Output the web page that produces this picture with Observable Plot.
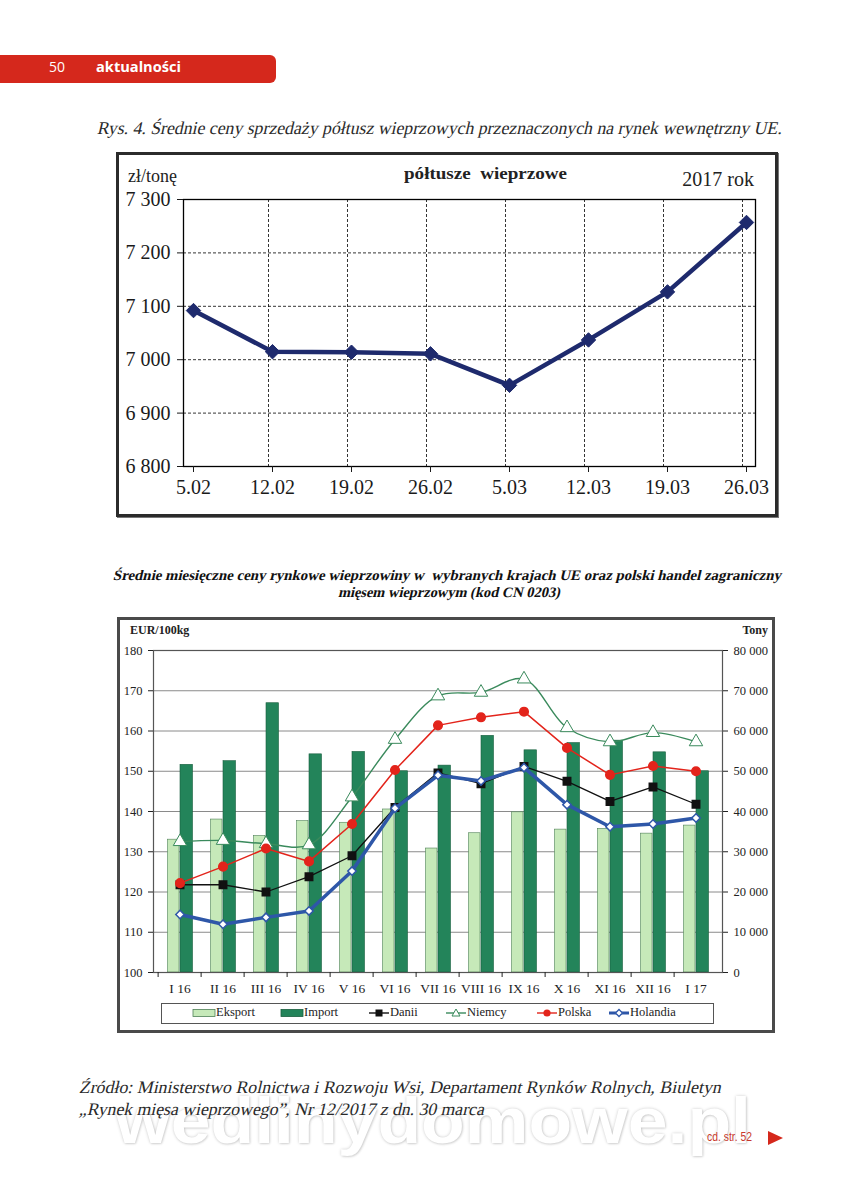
<!DOCTYPE html>
<html><head><meta charset="utf-8">
<script src="https://cdn.jsdelivr.net/npm/d3@7"></script>
<script src="https://cdn.jsdelivr.net/npm/@observablehq/plot@0.6"></script>
<style>
body{margin:0;background:#fff;}
#page{position:relative;width:853px;height:1200px;overflow:hidden;background:#fff;}
.abs{position:absolute;white-space:pre;line-height:1;}
.serif{font-family:"Liberation Serif","Times New Roman",serif;}
.sans{font-family:"Open Sans","Noto Sans",sans-serif;}
.fit{display:inline-block;transform-origin:0 50%;}
.box{position:absolute;box-sizing:border-box;background:#fff;}
</style></head>
<body><div id="page"></div>
<script>
// ---------- data: chart 1 ----------
const weeks = ["5.02","12.02","19.02","26.02","5.03","12.03","19.03","26.03"];
const prices = [7092, 7015, 7014, 7011, 6952, 7037, 7127, 7257];
const priceTicks = [6800, 6900, 7000, 7100, 7200, 7300];

// ---------- data: chart 2 ----------
const months = ["I 16","II 16","III 16","IV 16","V 16","VI 16","VII 16","VIII 16","IX 16","X 16","XI 16","XII 16","I 17"];
const eksport = [33000, 38000, 33900, 37600, 37200, 40500, 30800, 34600, 39800, 35500, 35700, 34500, 36500];
const importT = [51600, 52500, 66900, 54200, 54800, 50000, 51400, 58800, 55200, 57000, 57600, 54700, 50000];
const danii    = [121.8, 121.8, 120.0, 123.8, 129.0, 141.0, 149.6, 146.9, 151.2, 147.5, 142.5, 146.1, 141.8];
const niemcy   = [132.5, 132.8, 132.0, 131.7, 143.6, 157.9, 168.7, 169.6, 172.9, 160.8, 157.3, 159.6, 157.3];
const polska   = [122.2, 126.3, 130.8, 127.6, 136.9, 150.3, 161.4, 163.4, 164.8, 155.8, 149.1, 151.3, 150.0];
const holandia = [114.4, 112.0, 113.7, 115.3, 125.2, 140.8, 149.0, 147.6, 150.9, 141.7, 136.2, 136.9, 138.4];
const eurTicks = [100, 110, 120, 130, 140, 150, 160, 170, 180];
const seriesNames = ["Eksport", "Import", "Danii", "Niemcy", "Polska", "Holandia"];

// ---------- texts ----------
const pageNo = "50";
const section = "aktualności";
const caption1 = "Rys. 4. Średnie ceny sprzedaży półtusz wieprzowych przeznaczonych na rynek wewnętrzny UE.";
const unit1 = "zł/tonę";
const title1 = "półtusze  wieprzowe";
const year1 = "2017 rok";
const title2a = "Średnie miesięczne ceny rynkowe wieprzowiny w  wybranych krajach UE oraz polski handel zagraniczny";
const title2b = "mięsem wieprzowym (kod CN 0203)";
const unitL = "EUR/100kg";
const unitR = "Tony";
const source1 = "Źródło: Ministerstwo Rolnictwa i Rozwoju Wsi, Departament Rynków Rolnych, Biuletyn";
const source2 = "„Rynek mięsa wieprzowego”, Nr 12/2017 z dn. 30 marca";
const watermark = "wedlinydomowe.pl";
const contd = "cd. str. 52";

const page = document.getElementById("page");
const fmt = d => d3.format(",")(d).replace(/,/g, "\u00a0");
const fits = [];

function txt(s, {x, cy, size, cls = "serif", style = "", width = null, anchor = "start", skew = false}) {
  const el = document.createElement("div");
  el.className = "abs " + cls;
  el.style.cssText += `font-size:${size}px;top:${cy - size * 0.55}px;${style}`;
  const sp = document.createElement("span");
  sp.className = "fit";
  sp.textContent = s;
  el.appendChild(sp);
  page.appendChild(el);
  fits.push({el, sp, x, width, anchor, skew});
  return el;
}
function box(x, y, w, h, style) {
  const b = document.createElement("div");
  b.className = "box";
  b.style.cssText += `left:${x}px;top:${y}px;width:${w}px;height:${h}px;${style}`;
  page.appendChild(b);
  return b;
}

// header tab
box(0, 55, 276, 28, "background:#d5281c;border-radius:0 6px 6px 0;");
txt(pageNo, {x: 49, cy: 68, size: 14, cls: "sans", style: "color:#fff;"});
txt(section, {x: 96, cy: 68, size: 14.5, cls: "sans", style: "color:#fff;font-weight:bold;", width: 85});

// caption 1
txt(caption1, {x: 98, cy: 129, size: 18, style: "color:#2a2a2a;", width: 685, skew: true});

// ---------- chart 1 ----------
const navy = "#1e2a6d";
const box1 = box(116, 152, 662, 365, "border:3px solid #2b2b2b;box-shadow:1px 1px 0 #777;");
const d1 = weeks.map((w, i) => ({week: w, price: prices[i]}));
const c1 = Plot.plot({
  width: 656, height: 359,
  marginLeft: 64, marginRight: 20, marginTop: 44, marginBottom: 48,
  style: {fontFamily: "'Liberation Serif', serif", fontSize: "20px", color: "#1a1a1a", background: "transparent"},
  x: {type: "point", domain: weeks, range: [72, 629], padding: 0},
  y: {domain: [6800, 7300]},
  marks: [
    Plot.gridY(priceTicks.slice(1, -1), {stroke: "#000", strokeOpacity: 1, strokeDasharray: "3,2", strokeWidth: 0.8}),
    Plot.gridX(weeks.slice(1), {stroke: "#000", strokeOpacity: 1, strokeDasharray: "3,2", strokeWidth: 0.8, dx: -4}),
    Plot.frame({stroke: "#000", strokeWidth: 1.3}),
    Plot.axisY(priceTicks, {tickSize: 6, tickPadding: 7, tickFormat: fmt, fontSize: 20, label: null}),
    Plot.axisX(weeks, {tickSize: 6, tickPadding: 7, fontSize: 20, label: null}),
    Plot.line(d1, {x: "week", y: "price", stroke: navy, strokeWidth: 4.5}),
    Plot.dot(d1, {x: "week", y: "price", symbol: "diamond2", r: 6.5, fill: navy, stroke: navy, strokeWidth: 1})
  ]
});
c1.style.position = "absolute"; c1.style.left = "0px"; c1.style.top = "0px";
box1.appendChild(c1);
txt(unit1, {x: 128, cy: 177, size: 18, style: "color:#222;"});
txt(title1, {x: 404, cy: 175, size: 16.5, style: "font-weight:bold;color:#222;", width: 163});
txt(year1, {x: 754, cy: 180, size: 20, style: "color:#222;", anchor: "end"});

// ---------- chart 2 title ----------
txt(title2a, {x: 114, cy: 576, size: 14.5, style: "font-weight:bold;color:#111;", width: 668, skew: true});
txt(title2b, {x: 339, cy: 593, size: 14.5, style: "font-weight:bold;color:#111;", width: 222, skew: true});

// ---------- chart 2 ----------
const cExp = "#c6e9b9", cImp = "#23845a", cDan = "#111", cNie = "#3a8a5c", cPol = "#e3241b", cHol = "#2e57a8";
const box2 = box(117, 617, 658, 416, "border:3px solid #4a4a4a;");
const rows = months.map((m, i) => ({month: m, eksport: eksport[i], import: importT[i],
  danii: danii[i], niemcy: niemcy[i], polska: polska[i], holandia: holandia[i]}));
const toEur = t => 100 + t / 1000; // right (tonnes) axis shares pixels with left axis
const W2 = 652, ML2 = 33, MR2 = 50;
const bw = (W2 - ML2 - MR2) / months.length;
const c2 = Plot.plot({
  width: W2, height: 410,
  marginLeft: ML2, marginRight: MR2, marginTop: 30, marginBottom: 58,
  style: {fontFamily: "'Liberation Serif', serif", fontSize: "12.5px", color: "#222", background: "transparent"},
  x: {type: "band", domain: months, padding: 0},
  y: {domain: [100, 180]},
  marks: [
    Plot.gridY(eurTicks, {stroke: "#8a8a8a", strokeOpacity: 1, strokeWidth: 1}),
    Plot.barY(rows, {x: "month", y1: d => 100, y2: d => toEur(d.eksport), fill: cExp, stroke: "#4f8058", strokeWidth: 0.6, insetLeft: 9.5, insetRight: 22}),
    Plot.barY(rows, {x: "month", y1: d => 100, y2: d => toEur(d.import), fill: cImp, stroke: "#1a5f3f", strokeWidth: 0.6, insetLeft: 22, insetRight: 8.5}),
    Plot.frame({stroke: "#555", strokeWidth: 1.2}),
    Plot.axisY(eurTicks, {anchor: "left", tickSize: 5, tickPadding: 6, fontSize: 12.5, label: null}),
    Plot.axisY(eurTicks, {anchor: "right", tickSize: 5, tickPadding: 6, fontSize: 12.5, tickFormat: d => fmt((d - 100) * 1000), label: null}),
    Plot.axisX(months, {tickSize: 0, tickPadding: 11, fontSize: 13.5, label: null}),
    Plot.axisX(months, {tickSize: 5, tickFormat: () => "", dx: -bw / 2, label: null}),
    Plot.line(rows, {x: "month", y: "danii", stroke: cDan, strokeWidth: 1.3}),
    Plot.dot(rows, {x: "month", y: "danii", symbol: "square", r: 4.2, fill: cDan, stroke: cDan}),
    Plot.line(rows, {x: "month", y: "niemcy", stroke: cNie, strokeWidth: 1.4, curve: "catmull-rom"}),
    Plot.dot(rows, {x: "month", y: "niemcy", symbol: "triangle", r: 5, fill: "#fff", stroke: cNie, strokeWidth: 1}),
    Plot.line(rows, {x: "month", y: "polska", stroke: cPol, strokeWidth: 1.5}),
    Plot.dot(rows, {x: "month", y: "polska", r: 4.3, fill: cPol, stroke: cPol}),
    Plot.line(rows, {x: "month", y: "holandia", stroke: cHol, strokeWidth: 3.5}),
    Plot.dot(rows, {x: "month", y: "holandia", symbol: "diamond2", r: 3.8, fill: "#fff", stroke: cHol, strokeWidth: 1.5})
  ]
});
c2.style.position = "absolute"; c2.style.left = "0px"; c2.style.top = "0px";
box2.appendChild(c2);
txt(unitL, {x: 130, cy: 631, size: 12, style: "font-weight:bold;color:#222;"});
txt(unitR, {x: 768, cy: 631, size: 12, style: "font-weight:bold;color:#222;", anchor: "end"});

// legend
box(161, 1003, 553, 21, "border:1px solid #555;background:#fff;");
const legendItems = [
  {name: seriesNames[0], x: 193, kind: "rect", fill: cExp, stroke: "#4f8058"},
  {name: seriesNames[1], x: 281, kind: "rect", fill: cImp, stroke: "#1a5f3f"},
  {name: seriesNames[2], x: 369, kind: "line", color: cDan, sym: "sq"},
  {name: seriesNames[3], x: 446, kind: "line", color: cNie, sym: "tri"},
  {name: seriesNames[4], x: 537, kind: "line", color: cPol, sym: "circ"},
  {name: seriesNames[5], x: 609, kind: "line", color: cHol, sym: "dia"}
];
const ns = "http://www.w3.org/2000/svg";
const lsvg = document.createElementNS(ns, "svg");
lsvg.setAttribute("width", 853); lsvg.setAttribute("height", 30);
lsvg.style.cssText = "position:absolute;left:0;top:998px;";
const cyL = 15;
for (const it of legendItems) {
  let s = "";
  if (it.kind === "rect") {
    s = `<rect x="${it.x}" y="${cyL - 3.5}" width="22" height="7" fill="${it.fill}" stroke="${it.stroke}" stroke-width="0.8"/>`;
  } else {
    const sw = it.sym === "dia" ? 3 : 1.4;
    s = `<line x1="${it.x}" x2="${it.x + 20}" y1="${cyL}" y2="${cyL}" stroke="${it.color}" stroke-width="${sw}"/>`;
    const mx = it.x + 10;
    if (it.sym === "sq") s += `<rect x="${mx - 3.5}" y="${cyL - 3.5}" width="7" height="7" fill="${it.color}"/>`;
    if (it.sym === "tri") s += `<path d="M${mx},${cyL - 4} L${mx + 4},${cyL + 3} L${mx - 4},${cyL + 3}Z" fill="#fff" stroke="${it.color}"/>`;
    if (it.sym === "circ") s += `<circle cx="${mx}" cy="${cyL}" r="3.6" fill="${it.color}"/>`;
    if (it.sym === "dia") s += `<path d="M${mx},${cyL - 3.5} L${mx + 3.5},${cyL} L${mx},${cyL + 3.5} L${mx - 3.5},${cyL}Z" fill="#fff" stroke="${it.color}" stroke-width="1.3"/>`;
  }
  lsvg.insertAdjacentHTML("beforeend", s);
}
page.appendChild(lsvg);
legendItems.forEach(it => txt(it.name, {x: it.x + (it.kind === "rect" ? 23 : 21), cy: 1013, size: 12.5, style: "color:#222;"}));

// watermark + source
txt(watermark, {x: 115, cy: 1124, size: 64, cls: "sans", style: "font-family:'Liberation Sans',sans-serif;font-weight:bold;color:#fff;text-shadow:0 0 3px rgba(0,0,0,0.2),1px 1px 2px rgba(0,0,0,0.1);", width: 636});
txt(source1, {x: 80, cy: 1089, size: 17.5, style: "color:#2a2a2a;", width: 642, skew: true});
txt(source2, {x: 80, cy: 1111, size: 17.5, style: "color:#2a2a2a;", width: 405, skew: true});
txt(contd, {x: 707, cy: 1138, size: 12.5, cls: "sans", style: "font-family:'Liberation Sans Narrow','Liberation Sans',sans-serif;color:#c8382c;", width: 45});
const tri = document.createElementNS(ns, "svg");
tri.setAttribute("width", 20); tri.setAttribute("height", 16);
tri.style.cssText = "position:absolute;left:767px;top:1130px;";
tri.innerHTML = `<path d="M1,1 L16,8 L1,15Z" fill="#d5281c"/>`;
page.appendChild(tri);

// fit text widths
for (const f of fits) {
  const w = f.sp.getBoundingClientRect().width;
  let k = 1;
  if (f.width) k = f.width / w;
  f.sp.style.transform = `scaleX(${k})` + (f.skew ? " skewX(-13deg)" : "");
  const ww = w * k;
  f.el.style.left = (f.anchor === "end" ? f.x - ww : f.x) + "px";
}
</script>
</body></html>
